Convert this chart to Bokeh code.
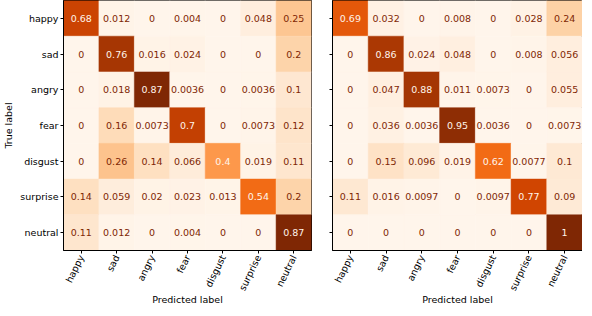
import numpy as np
from bokeh.plotting import figure
from bokeh.layouts import row
from bokeh.models import ColumnDataSource, LinearColorMapper, Range1d, FixedTicker
from bokeh.transform import transform
from bokeh.core.properties import value
from bokeh.embed import file_html
from bokeh.resources import INLINE

labels = ["happy", "sad", "angry", "fear", "disgust", "surprise", "neutral"]

cm_left = [
    [0.68, 0.012, 0, 0.004, 0, 0.048, 0.25],
    [0, 0.76, 0.016, 0.024, 0, 0, 0.2],
    [0, 0.018, 0.87, 0.0036, 0, 0.0036, 0.1],
    [0, 0.16, 0.0073, 0.7, 0, 0.0073, 0.12],
    [0, 0.26, 0.14, 0.066, 0.4, 0.019, 0.11],
    [0.14, 0.059, 0.02, 0.023, 0.013, 0.54, 0.2],
    [0.11, 0.012, 0, 0.004, 0, 0, 0.87],
]

cm_right = [
    [0.69, 0.032, 0, 0.008, 0, 0.028, 0.24],
    [0, 0.86, 0.024, 0.048, 0, 0.008, 0.056],
    [0, 0.047, 0.88, 0.011, 0.0073, 0, 0.055],
    [0, 0.036, 0.0036, 0.95, 0.0036, 0, 0.0073],
    [0, 0.15, 0.096, 0.019, 0.62, 0.0077, 0.1],
    [0.11, 0.016, 0.0097, 0, 0.0097, 0.77, 0.09],
    [0, 0, 0, 0, 0, 0, 1],
]

# matplotlib "Oranges" anchors
anchors = ["#fff5eb", "#fee6ce", "#fdd0a2", "#fdae6b", "#fd8d3c",
           "#f16913", "#d94801", "#a63603", "#7f2704"]


def hex2rgb(h):
    return np.array([int(h[i:i + 2], 16) for i in (1, 3, 5)], dtype=float)


arr = np.array([hex2rgb(h) for h in anchors])
pos = np.linspace(0, 1, len(anchors))
t = np.linspace(0, 1, 256)
palette = []
for tt in t:
    rgb = [np.interp(tt, pos, arr[:, k]) for k in range(3)]
    palette.append("#%02x%02x%02x" % tuple(int(round(c)) for c in rgb))

FONT = "DejaVu Sans"
FS = "9.5px"
N = len(labels)


def fmt(v):
    if v == 0:
        return "0"
    if v == 1:
        return "1"
    return ("%.2g" % v)


def make_fig(cm, fw, show_ylabels, min_left, min_right):
    cm = np.array(cm, dtype=float)
    vmax = cm.max()
    xs, ys, vals, txt, tcol = [], [], [], [], []
    for i in range(N):
        for j in range(N):
            v = cm[i, j]
            xs.append(j)
            ys.append(N - 1 - i)
            vals.append(v)
            txt.append(fmt(v))
            tcol.append("#fff5eb" if v / vmax > 0.4 else "#7f2704")
    src = ColumnDataSource(dict(x=xs, y=ys, v=vals, t=txt, c=tcol))
    mapper = LinearColorMapper(palette=palette, low=0, high=vmax)

    p = figure(frame_width=fw, frame_height=250,
               x_range=Range1d(-0.5, N - 0.5),
               y_range=Range1d(-0.5, N - 0.5),
               output_backend="svg", toolbar_location=None,
               min_border_top=0, min_border_left=min_left,
               min_border_right=min_right, min_border_bottom=0)
    p.rect(x="x", y="y", width=1, height=1, source=src,
           fill_color=transform("v", mapper),
           line_color=transform("v", mapper), line_width=0.5)
    p.text(x="x", y="y", text="t", source=src, text_color="c",
           text_align="center", text_baseline="middle",
           text_font=value(FONT), text_font_size=FS)

    p.xgrid.visible = False
    p.ygrid.visible = False
    p.outline_line_color = "black"
    p.outline_line_width = 1
    p.outline_line_alpha = 1
    p.background_fill_color = "white"
    p.border_fill_color = "white"

    p.xaxis.ticker = FixedTicker(ticks=list(range(N)))
    p.yaxis.ticker = FixedTicker(ticks=list(range(N)))
    p.xaxis.major_label_overrides = {j: labels[j] for j in range(N)}

    for ax in (p.xaxis[0], p.yaxis[0]):
        ax.axis_line_color = "black"
        ax.major_tick_line_color = "black"
        ax.major_tick_out = 3
        ax.major_tick_in = 0
        ax.minor_tick_line_color = None
        ax.major_label_text_font = FONT
        ax.major_label_text_font_size = FS
        ax.major_label_text_color = "black"
        ax.major_label_standoff = 2
        ax.axis_label_text_font = FONT
        ax.axis_label_text_font_size = FS
        ax.axis_label_text_font_style = "normal"
        ax.axis_label_text_color = "black"
        ax.axis_label_standoff = 0

    p.xaxis.axis_label = "Predicted label"
    p.xaxis.axis_label_standoff = -4
    p.xaxis.major_label_orientation = 64 * np.pi / 180
    if show_ylabels:
        p.yaxis.major_label_overrides = {N - 1 - i: labels[i] for i in range(N)}
        p.yaxis.axis_label = "True label"
        p.yaxis.axis_label_standoff = 3
    else:
        p.yaxis.major_label_overrides = {i: "" for i in range(N)}
        p.yaxis.major_label_standoff = 0
    return p


p1 = make_fig(cm_left, 248, True, 20, 10)
p2 = make_fig(cm_right, 250, False, 11, 0)

layout = row(p1, p2, spacing=0)
open("out.html", "w").write(file_html(layout, INLINE))
